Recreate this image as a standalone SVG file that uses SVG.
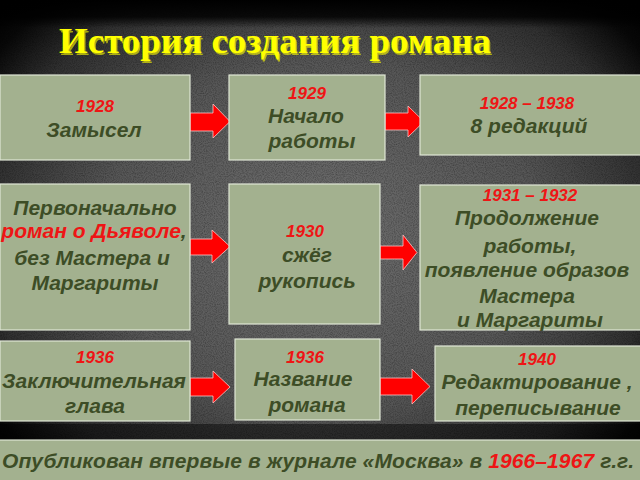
<svg xmlns="http://www.w3.org/2000/svg" width="640" height="480" viewBox="0 0 640 480">
<defs>
<radialGradient id="bg" cx="320" cy="235" r="430" gradientUnits="userSpaceOnUse" gradientTransform="translate(320 235) scale(1 0.8) translate(-320 -235)">
<stop offset="0" stop-color="#6e6e6e"/>
<stop offset="0.5" stop-color="#575757"/>
<stop offset="0.78" stop-color="#303030"/>
<stop offset="0.92" stop-color="#080808"/>
<stop offset="1" stop-color="#000"/>
</radialGradient>
<filter id="noise" x="0" y="0" width="100%" height="100%">
<feTurbulence type="fractalNoise" baseFrequency="0.9" numOctaves="2" seed="3"/>
<feColorMatrix type="matrix" values="0 0 0 0 0  0 0 0 0 0  0 0 0 0 0  0 0 0 -1.6 1.0"/>
</filter>
<linearGradient id="topfade" x1="0" y1="0" x2="0" y2="1">
<stop offset="0" stop-color="#000" stop-opacity="1"/>
<stop offset="0.6" stop-color="#000" stop-opacity="0.85"/>
<stop offset="1" stop-color="#000" stop-opacity="0"/>
</linearGradient>
</defs>
<style>
.box{fill:#a3b18f;stroke:#dfe6d6;stroke-width:1.2}
.t{font-family:"Liberation Sans",Arial,sans-serif;font-weight:bold;font-style:italic;font-size:21px;fill:#3d4d26;text-anchor:middle}
.y{font-family:"Liberation Sans",Arial,sans-serif;font-weight:bold;font-style:italic;font-size:17px;fill:#ee1515;text-anchor:middle}
.r{fill:#ee1515}
.arrow{fill:#ff0000;stroke:#ffc4c4;stroke-width:0.8;stroke-linejoin:miter}
.title{font-family:"Liberation Serif","Times New Roman",serif;font-weight:bold;font-size:35px;fill:#ffff00}
</style>
<rect width="640" height="480" fill="url(#bg)"/>
<rect width="640" height="480" filter="url(#noise)" opacity="0.35"/>
<rect width="640" height="28" fill="url(#topfade)"/>
<rect x="0" y="424" width="640" height="16" fill="#000" opacity="0.45"/>

<g id="title">
<text class="title" x="59" y="53" textLength="432" lengthAdjust="spacingAndGlyphs" fill="#000" opacity="0.6" transform="translate(1.5 1.5)">История создания романа</text>
<text class="title" x="59" y="53" textLength="432" lengthAdjust="spacingAndGlyphs">История создания романа</text>
</g>

<g id="connectors">
<path class="arrow" d="M190,113 L213,113 L213,104 L230,121.5 L213,138 L213,131 L190,131 Z"/>
<path class="arrow" d="M385,113 L408,113 L408,106 L424,121.5 L408,137 L408,130 L385,130 Z"/>
<path class="arrow" d="M190,239 L212,239 L212,230 L230,246.5 L212,263 L212,255 L190,255 Z"/>
<path class="arrow" d="M380,246 L403,246 L403,235 L417,252.5 L403,270 L403,259 L380,259 Z"/>
<path class="arrow" d="M190,378 L213,378 L213,371 L230,387 L213,403 L213,396 L190,396 Z"/>
<path class="arrow" d="M380,378 L412,378 L412,369 L430,386.5 L412,404 L412,395 L380,395 Z"/>
</g>

<g id="n1928">
<rect class="box" x="0" y="75" width="190" height="85"/>
<text class="y" x="95" y="112">1928</text>
<text class="t" x="94" y="137">Замысел</text>
</g>

<g id="n1929">
<rect class="box" x="229" y="75" width="156" height="85"/>
<text class="y" x="307" y="99">1929</text>
<text class="t" x="306" y="123">Начало</text>
<text class="t" x="312" y="148">работы</text>
</g>

<g id="n1928_1938">
<rect class="box" x="420" y="75" width="222" height="80"/>
<text class="y" x="527" y="109">1928 – 1938</text>
<text class="t" x="529" y="133">8 редакций</text>
</g>

<g id="nDevil">
<rect class="box" x="0" y="184" width="190" height="146"/>
<text class="t" x="95" y="215">Первоначально</text>
<text class="t" x="94" y="238"><tspan class="r">роман о Дьяволе</tspan>,</text>
<text class="t" x="92" y="265">без Мастера и</text>
<text class="t" x="95" y="290">Маргариты</text>
</g>

<g id="n1930">
<rect class="box" x="229" y="184" width="151" height="140"/>
<text class="y" x="305" y="237">1930</text>
<text class="t" x="307" y="262">сжёг</text>
<text class="t" x="307" y="288">рукопись</text>
</g>

<g id="n1931_1932">
<rect class="box" x="420" y="185" width="222" height="145"/>
<text class="y" x="530" y="201">1931 – 1932</text>
<text class="t" x="527" y="225">Продолжение</text>
<text class="t" x="530" y="253">работы,</text>
<text class="t" x="527" y="277">появление образов</text>
<text class="t" x="527" y="303">Мастера</text>
<text class="t" x="530" y="327">и Маргариты</text>
</g>

<g id="n1936a">
<rect class="box" x="0" y="341" width="190" height="80"/>
<text class="y" x="95" y="363">1936</text>
<text class="t" x="94" y="388">Заключительная</text>
<text class="t" x="95" y="413">глава</text>
</g>

<g id="n1936b">
<rect class="box" x="235" y="339" width="145" height="81"/>
<text class="y" x="305" y="363">1936</text>
<text class="t" x="303" y="386">Название</text>
<text class="t" x="307" y="412">романа</text>
</g>

<g id="n1940">
<rect class="box" x="435" y="346" width="207" height="75"/>
<text class="y" x="537" y="365">1940</text>
<text class="t" x="537" y="389">Редактирование ,</text>
<text class="t" x="538" y="415">переписывание</text>
</g>

<g id="published">
<rect class="box" x="-1" y="440" width="642" height="42"/>
<text class="t" x="318" y="468" font-size="20" textLength="632" lengthAdjust="spacing">Опубликован впервые в журнале «Москва» в <tspan class="r">1966–1967</tspan> г.г.</text>
</g>
</svg>
